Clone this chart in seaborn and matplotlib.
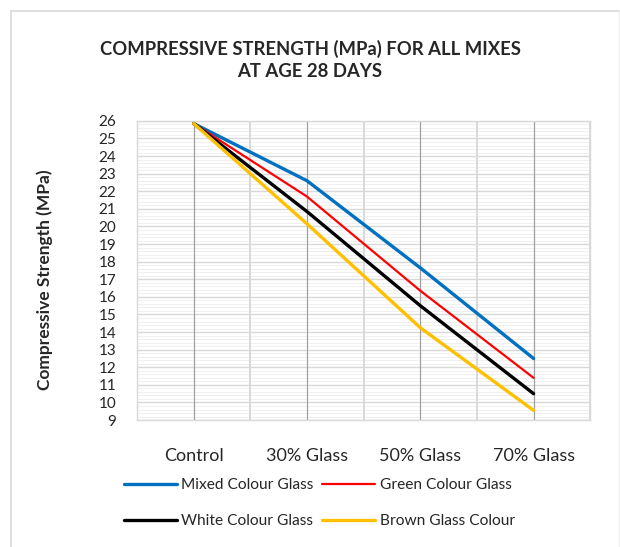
import matplotlib
matplotlib.use("Agg")
import matplotlib.pyplot as plt
import seaborn as sns
import pandas as pd
import numpy as np
from matplotlib.lines import Line2D

categories = ["Control", "30% Glass", "50% Glass", "70% Glass"]
mixed = [25.85, 22.6, 17.65, 12.5]
green = [25.85, 21.7, 16.35, 11.4]
white = [25.85, 20.85, 15.5, 10.5]
brown = [25.85, 20.15, 14.25, 9.55]
series_names = ["Mixed Colour Glass", "Green Colour Glass", "White Colour Glass", "Brown Glass Colour"]
yticks = list(range(9, 27))

sns.set_theme(style="white")
plt.rcParams['font.family'] = ['Lato', 'DejaVu Sans']

rows = []
for name, vals in zip(series_names, [mixed, green, white, brown]):
    for c, v in zip(categories, vals):
        rows.append({"Mix": c, "Strength": v, "Series": name})
df = pd.DataFrame(rows)

colors = {"Mixed Colour Glass": "#0070C0", "Green Colour Glass": "#FF0000",
          "White Colour Glass": "#000000", "Brown Glass Colour": "#FFC000"}
widths = {"Mixed Colour Glass": 2.4, "Green Colour Glass": 1.6,
          "White Colour Glass": 2.4, "Brown Glass Colour": 2.4}

fig = plt.figure(figsize=(6.2, 5.47), dpi=100)
ax = fig.add_axes([0.221, 0.232, 0.731, 0.547])

for name in series_names:
    sub = df[df["Series"] == name]
    sns.lineplot(data=sub, x="Mix", y="Strength", ax=ax, color=colors[name],
                 linewidth=widths[name], label=name, sort=False, zorder=3)

ax.set_xlim(-0.5, len(categories) - 0.5)
ax.set_ylim(min(yticks), max(yticks))
ax.set_yticks(yticks)

# background grid: faint minor horizontals, then major horizontals, then verticals on top
minor_y = np.arange(min(yticks), max(yticks), 0.2)
ax.hlines(minor_y, -0.5, len(categories) - 0.5, color="#eeeeee", linewidth=0.6, zorder=0.5)
ax.hlines(yticks, -0.5, len(categories) - 0.5, color="#d9d9d9", linewidth=1.0, zorder=0.8)
half = np.arange(-0.5, len(categories), 1.0)[1:]
ax.vlines(half, min(yticks), max(yticks), color="#d9d9d9", linewidth=1.4, zorder=1.2)
ax.vlines(range(len(categories)), min(yticks), max(yticks), color="#a0a0a0", linewidth=0.9, zorder=1.3)

ax.tick_params(axis="both", which="both", length=0)
ax.tick_params(axis="y", labelsize=11, pad=15)
ax.tick_params(axis="x", labelsize=13, pad=20)
for s in ax.spines.values():
    s.set_color("#d9d9d9")
    s.set_linewidth(1.0)
ax.set_xlabel("")
ax.set_ylabel("Compressive Strength (MPa)", fontsize=12.5, fontweight="bold")
ax.yaxis.set_label_coords(-0.185, 0.468)

ax.get_legend().remove()
h, l = ax.get_legend_handles_labels()
order = [0, 2, 1, 3]
fig.legend([h[i] for i in order], [l[i] for i in order], ncol=2,
           loc="center", bbox_to_anchor=(0.515, 0.080), frameon=False,
           fontsize=11.2, handlelength=3.4, handletextpad=0.3, columnspacing=0.55,
           labelspacing=1.4)

fig.text(0.5, 1 - 60 / 547, "COMPRESSIVE STRENGTH (MPa) FOR ALL MIXES\nAT AGE 28 DAYS",
         ha="center", va="center", fontsize=13.3, fontweight="bold", linespacing=1.4)

# chart border (left and top edges visible, faint right edge)
fig.lines.append(Line2D([11 / 620, 11 / 620], [0, 1 - 11 / 547], transform=fig.transFigure,
                        color="#d9d9d9", linewidth=1.2))
fig.lines.append(Line2D([11 / 620, 1], [1 - 11 / 547, 1 - 11 / 547], transform=fig.transFigure,
                        color="#d9d9d9", linewidth=1.2))
fig.lines.append(Line2D([619 / 620, 619 / 620], [0, 1 - 11 / 547], transform=fig.transFigure,
                        color="#eeeeee", linewidth=1.0))
fig.savefig("out.png", dpi=100)
